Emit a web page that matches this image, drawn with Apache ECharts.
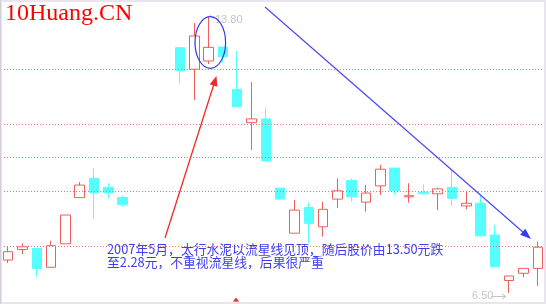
<!DOCTYPE html>
<html>
<head>
<meta charset="utf-8">
<script src="https://cdn.jsdelivr.net/npm/echarts@6/dist/echarts.min.js"></script>
<style>
html,body{margin:0;padding:0;background:#fff;}
#chart{width:546px;height:304px;}
</style>
</head>
<body>
<div id="chart"></div>
<script>
// ---- data ----
const categories = ['1','2','3','4','5','6','7','8','9','10','11','12','13','14','15','16','17','18','19','20',
  '21','22','23','24','25','26','27','28','29','30','31','32','33','34','35','36','37','38'];
const opens  = [7.37,7.65,7.68,7.18,7.80,9.02,9.53,9.29,9.02,null,null,null,12.98,12.41,12.63,13.00,11.88,11.00,11.10,9.27,
  8.08,8.76,8.25,8.98,9.47,8.90,9.33,9.80,9.04,9.16,9.12,9.29,8.80,8.87,8.03,6.83,7.02,7.15];
const closes = [7.59,7.72,7.15,7.75,8.56,9.35,9.15,9.15,8.83,null,null,null,12.37,13.29,12.99,12.74,11.42,11.10,9.99,8.98,
  8.69,8.34,8.71,9.20,9.04,9.14,9.77,9.20,9.07,9.12,9.25,9.00,8.87,8.01,7.19,6.95,7.15,7.71];
const lows   = [7.29,7.53,6.93,7.18,7.80,9.02,8.47,9.00,8.78,null,null,null,12.04,11.60,12.55,12.58,11.42,10.28,9.99,8.98,
  8.08,7.81,7.99,8.75,8.91,8.65,9.09,9.09,8.89,9.11,8.69,8.80,8.71,8.01,7.19,6.50,6.91,6.69];
const highs  = [7.72,7.81,7.68,7.88,8.56,9.43,9.80,9.40,9.07,null,null,null,12.98,13.63,13.80,13.00,12.89,12.07,11.39,9.27,
  8.96,8.89,8.91,9.53,9.53,9.36,9.88,9.80,9.40,9.37,9.28,9.75,9.20,9.09,8.30,6.95,7.15,7.86];
const levelLines = [12.42, 10.97, 10.09, 9.20, 7.74];
const highLabel = '13.80';
const lowLabel = '6.50';
const logoText = '10Huang.CN';
const noteLine1 = '2007年5月，太行水泥以流星线见顶，随后股价由13.50元跌';
const noteLine2 = '至2.28元，不重视流星线，后果很严重';

const candleData = opens.map((o, i) => o == null ? '-' : [o, closes[i], lows[i], highs[i]]);

const chart = echarts.init(document.getElementById('chart'), null, {renderer: 'canvas'});
const blue = '#3d3df2';
const red = '#f02a2a';
chart.setOption({
  animation: false,
  backgroundColor: '#ffffff',
  grid: {left: 1, right: 1, top: 0, bottom: 0},
  xAxis: {
    type: 'category', data: categories, boundaryGap: true,
    axisLine: {show: false}, axisTick: {show: false}, axisLabel: {show: false}, splitLine: {show: false}
  },
  yAxis: {
    type: 'value', min: 6.209, max: 14.241, scale: true,
    axisLine: {show: false}, axisTick: {show: false}, axisLabel: {show: false}, splitLine: {show: false}
  },
  series: [
    {
      type: 'line', data: [], z: 1, silent: true,
      markLine: {
        silent: true, symbol: 'none', animation: false,
        label: {show: false},
        lineStyle: {color: '#e27a7a', width: 1, type: [1, 2]},
        data: levelLines.map(v => ({yAxis: v}))
      }
    },
    {
      type: 'candlestick', data: candleData, z: 3, barWidth: 10,
      itemStyle: {
        color: '#ffffff', color0: '#55ffff',
        borderColor: '#f25c5c', borderColor0: '#55ffff', borderWidth: 1
      }
    }
  ],
  graphic: [
    {type: 'rect', shape: {x: 1, y: 1, width: 544, height: 302}, style: {fill: 'none', stroke: '#e9e4ed', lineWidth: 2}, silent: true, z: 100},
    {type: 'line', shape: {x1: 0.5, y1: 0, x2: 0.5, y2: 304}, style: {stroke: '#d4cdd9', lineWidth: 1}, silent: true, z: 101},
    {type: 'text', x: 5, y: 14, style: {text: logoText, fill: '#ff0000', font: '24px "Liberation Serif", serif', verticalAlign: 'middle'}, z: 100},
    // high label
    {type: 'line', shape: {x1: 214, y1: 19, x2: 209.5, y2: 14.5}, style: {stroke: '#c6c6c6', lineWidth: 1}, z: 2},
    {type: 'text', x: 215, y: 19.5, style: {text: highLabel, fill: '#c4c4c4', font: '11px "Liberation Sans", Arial, sans-serif', verticalAlign: 'middle'}, z: 2},
    // low label
    {type: 'text', x: 472, y: 296, style: {text: lowLabel, fill: '#c4c4c4', font: '11px "Liberation Sans", Arial, sans-serif', verticalAlign: 'middle'}, z: 100},
    {type: 'line', shape: {x1: 491, y1: 296.5, x2: 506, y2: 296.5}, style: {stroke: '#c4c4c4', lineWidth: 1}, z: 100},
    {type: 'polyline', shape: {points: [[502, 294], [506, 296.5], [502, 299]]}, style: {stroke: '#c4c4c4', fill: 'none', lineWidth: 1}, z: 100},
    // ellipse
    {type: 'ellipse', shape: {cx: 210.3, cy: 42.5, rx: 15.3, ry: 25.8}, style: {fill: 'none', stroke: '#3434e8', lineWidth: 1.2}, z: 50},
    // blue arrow
    {type: 'line', shape: {x1: 265, y1: 7, x2: 524, y2: 233}, style: {stroke: '#4a4af5', lineWidth: 1.2}, z: 50},
    {type: 'polygon', shape: {points: [[531, 239], [520.1, 234.8], [525.3, 228.8]]}, style: {fill: '#3a3af2'}, z: 50},
    // red arrow
    {type: 'line', shape: {x1: 165, y1: 238, x2: 213.8, y2: 84.5}, style: {stroke: red, lineWidth: 1.3}, z: 50},
    {type: 'polygon', shape: {points: [[216.5, 76], [217.3, 86.7], [209.7, 84.3]]}, style: {fill: red}, z: 50},
    // note text
    {type: 'text', x: 107, y: 249.5, style: {text: noteLine1, fill: blue, font: '12.8px "Noto Sans CJK SC", sans-serif', verticalAlign: 'middle'}, z: 60},
    {type: 'text', x: 107, y: 262.5, style: {text: noteLine2, fill: blue, font: '12.8px "Noto Sans CJK SC", sans-serif', verticalAlign: 'middle'}, z: 60},
    // small red marker at bottom
    {type: 'polygon', shape: {points: [[236, 297.5], [232.8, 301.5], [239.2, 301.5]]}, style: {fill: '#f03030'}, z: 60},
    {type: 'rect', shape: {x: 234.2, y: 301.5, width: 3.6, height: 2.5}, style: {fill: '#f06060'}, z: 60}
  ]
});
</script>
</body>
</html>
